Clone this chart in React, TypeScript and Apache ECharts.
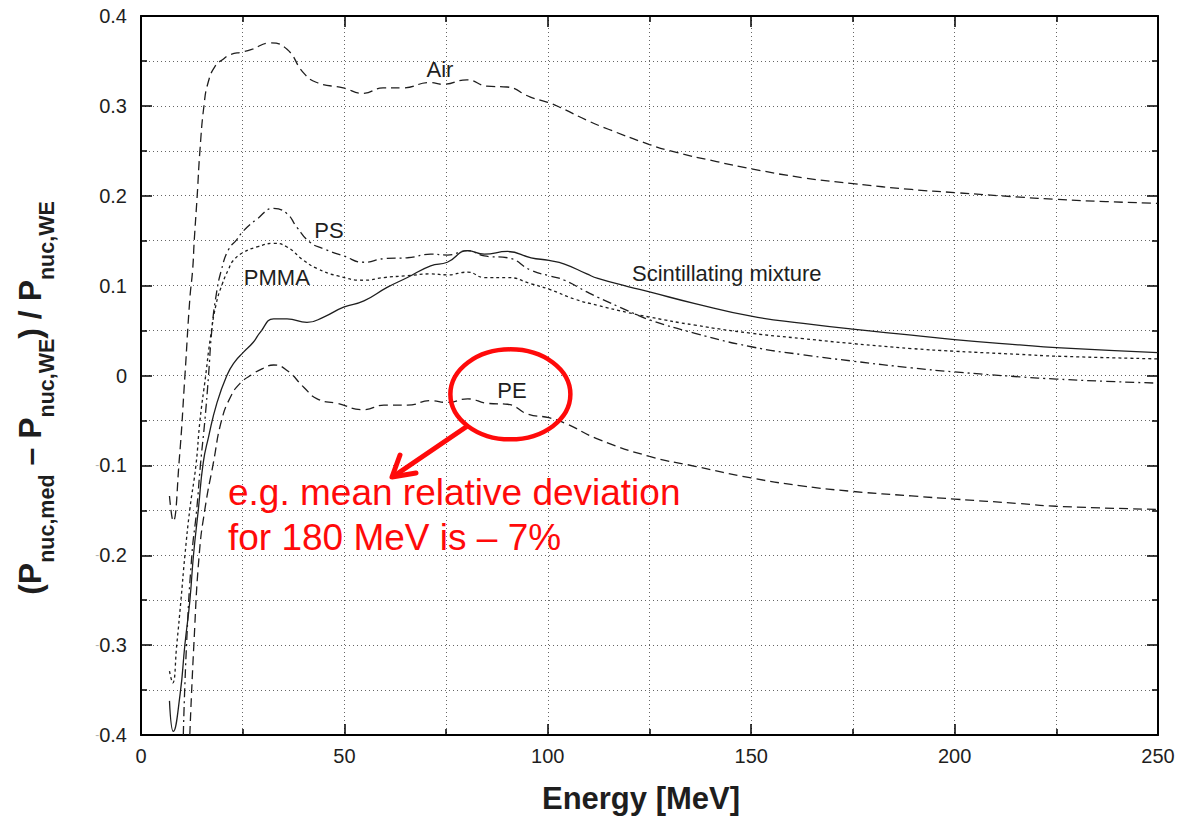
import React, { useEffect, useRef } from 'react';
import * as echarts from 'echarts';

// Relative deviation of nuclear interaction probability vs. water equivalent, per medium.
// Each curve: [energy in MeV, relative deviation]
const air: number[][] = [
  [7.0, -0.134], [7.9, -0.162], [9.4, -0.094], [10.8, 0.0], [12.0, 0.085], [12.7, 0.118],
  [13.1, 0.151], [13.8, 0.199], [14.5, 0.251], [15.5, 0.301], [16.5, 0.326], [18.2, 0.344],
  [20.2, 0.352], [21.9, 0.357], [25.0, 0.360], [27.3, 0.363], [31.7, 0.370], [35.9, 0.363],
  [39.9, 0.337], [43.2, 0.326], [49.7, 0.320], [54.6, 0.314], [59.5, 0.320], [64.4, 0.320],
  [71.0, 0.326], [74.2, 0.324], [80.1, 0.329], [85.0, 0.322], [90.0, 0.321], [95.6, 0.310],
  [100, 0.304], [103.2, 0.298], [109.6, 0.284], [114.9, 0.274], [125, 0.257], [130.9, 0.249],
  [141.5, 0.238], [150, 0.230], [162.8, 0.220], [175, 0.2135], [189.4, 0.207], [200, 0.2035],
  [216, 0.1985], [225, 0.196], [237.2, 0.1935], [250, 0.1915],
];

const ps: number[][] = [
  [10.4, -0.4], [11.2, -0.299], [12.5, -0.2], [13.7, -0.149], [14.6, -0.1], [15.7, -0.05],
  [16.6, 0.0], [17.4, 0.05], [18.5, 0.09], [19.8, 0.118], [21.5, 0.14], [23.5, 0.151],
  [25.2, 0.161], [28.5, 0.174], [32.6, 0.186], [35.9, 0.180], [38.3, 0.165], [41.6, 0.148],
  [44.9, 0.141], [49.8, 0.133], [54.8, 0.126], [59.7, 0.130], [65.5, 0.131], [71.2, 0.135],
  [75.3, 0.134], [80.3, 0.139], [84.4, 0.133], [90.1, 0.131], [95.9, 0.117], [100.3, 0.111],
  [104.1, 0.106], [109.6, 0.093], [112.3, 0.087], [119.7, 0.072], [125, 0.062], [136.2, 0.047],
  [150, 0.032], [162.8, 0.023], [175, 0.016], [189.4, 0.0085], [200, 0.004], [216, -0.0015],
  [225, -0.004], [237.2, -0.0065], [250, -0.0085],
];

const pmma: number[][] = [
  [7.0, -0.329], [7.8, -0.342], [8.8, -0.299], [9.8, -0.251], [10.8, -0.2], [12.0, -0.149],
  [13.5, -0.1], [14.5, -0.05], [15.9, 0.0], [17.0, 0.04], [18.5, 0.08], [20.0, 0.102],
  [21.5, 0.118], [22.7, 0.128], [25.2, 0.137], [28.5, 0.143], [32.6, 0.147], [35.9, 0.143],
  [40.0, 0.128], [43.3, 0.119], [48.2, 0.111], [54.8, 0.106], [59.7, 0.109], [65.5, 0.111],
  [71.2, 0.113], [75.3, 0.112], [80.3, 0.115], [84.4, 0.109], [90.1, 0.109], [95.9, 0.102],
  [100.3, 0.096], [106.6, 0.085], [112.3, 0.078], [119.7, 0.070], [125, 0.065], [136.2, 0.056],
  [150, 0.047], [162.8, 0.041], [175, 0.0355], [189.4, 0.030], [200, 0.027], [216, 0.0235],
  [225, 0.0215], [250, 0.0185],
];

const scint: number[][] = [
  [7.0, -0.362], [7.95, -0.396], [9.6, -0.355], [10.8, -0.299], [12.0, -0.251], [12.9, -0.2],
  [14.1, -0.149], [15.3, -0.097], [16.6, -0.0685], [18.6, -0.0315], [21.1, 0.0], [23.0, 0.015],
  [25.2, 0.026], [27.6, 0.037], [29.3, 0.048], [32.6, 0.063], [35.9, 0.063], [40.8, 0.059],
  [44.9, 0.065], [49.8, 0.076], [54.8, 0.083], [60.5, 0.098], [65.5, 0.109], [71.2, 0.122],
  [75.3, 0.126], [80.3, 0.139], [84.4, 0.135], [90.1, 0.138], [95.9, 0.131], [100.3, 0.128],
  [104.1, 0.124], [109.6, 0.113], [112.3, 0.108], [119.7, 0.099], [125, 0.093], [136.2, 0.080],
  [150, 0.066], [162.8, 0.058], [175, 0.0515], [189.4, 0.045], [200, 0.040], [216, 0.034],
  [225, 0.031], [250, 0.0255],
];

const pe: number[][] = [
  [12.0, -0.4], [13.0, -0.299], [14.3, -0.2], [15.7, -0.149], [17.8, -0.097], [19.8, -0.05],
  [22.0, -0.024], [24.3, -0.009], [27.6, 0.002], [30.0, 0.008], [32.6, 0.0117], [35.9, 0.0056],
  [40.0, -0.013], [43.3, -0.026], [48.2, -0.031], [54.8, -0.038], [59.7, -0.033], [65.5, -0.033],
  [71.2, -0.028], [75.3, -0.030], [80.3, -0.026], [85.2, -0.031], [90.1, -0.032], [95.1, -0.043],
  [100.3, -0.047], [104.2, -0.053], [112.5, -0.071], [125, -0.090], [136.2, -0.101], [150, -0.114],
  [162.8, -0.123], [175, -0.129], [189.4, -0.134], [200, -0.1375], [216, -0.1425], [225, -0.1455],
  [250, -0.149],
];

// Axis ranges and tick steps
const xRange = [0, 250];
const xStep = 50;
const yRange = [-0.4, 0.4];
const yStep = 0.1;

// Curve names, placed near their lines (data coordinates)
const curveNames = ['Air', 'PS', 'PMMA', 'Scintillating mixture', 'PE'];
const curveNameAnchors: number[][] = [
  [73.5, 0.340], [46.2, 0.161], [33.4, 0.109], [144.0, 0.1135], [91.2, -0.0167],
];

// Highlighted region around the PE label
const highlightCenter = [90.8, -0.021];

const FONT = '"Liberation Sans", Arial, Helvetica, sans-serif';
const INK = '#1e1e1e';
const RED = '#ff0a0a';
const GRID = '#666666';

export default function App() {
  const ref = useRef<HTMLDivElement>(null);

  useEffect(() => {
    if (!ref.current) return;
    const chart = echarts.init(ref.current, undefined, { renderer: 'svg' });

    const gridDots = { color: GRID, width: 1, type: [1, 3] as number[] };
    const baseAxis = (pos: string, isX: boolean, showLabels: boolean) => ({
      type: 'value',
      position: pos,
      min: isX ? xRange[0] : yRange[0],
      max: isX ? xRange[1] : yRange[1],
      interval: isX ? xStep : yStep,
      axisLine: { show: true, onZero: false, lineStyle: { color: '#000', width: 2 } },
      axisTick: { show: true, inside: true, length: 11, lineStyle: { color: '#000', width: 1.5 } },
      minorTick: { show: true, splitNumber: 2, length: 6, lineStyle: { color: '#000', width: 1.5 } },
      splitLine: { show: showLabels, lineStyle: gridDots },
      minorSplitLine: { show: showLabels, lineStyle: gridDots },
      axisLabel: showLabels
        ? isX
          ? { show: true, margin: 11, fontSize: 20, color: INK, fontFamily: FONT }
          : {
              show: true,
              margin: 14,
              fontSize: 20,
              color: INK,
              fontFamily: FONT,
              formatter: (v: number) => {
                const r = Math.round(v * 10) / 10;
                if (r === 0) return '0';
                if (r < 0) return '{m|-}' + Math.abs(r).toFixed(1);
                return r.toFixed(1);
              },
              rich: { m: { fontSize: 12, color: '#b0b0b0', fontFamily: FONT } },
            }
        : { show: false },
    });

    const curve = (name: string, data: number[][], type: any, z: number) => ({
      name,
      type: 'line',
      data,
      xAxisIndex: 0,
      yAxisIndex: 0,
      symbol: 'none',
      showSymbol: false,
      smooth: 0.5,
      clip: true,
      silent: true,
      z,
      lineStyle: { color: INK, width: 1.3, type },
    });

    chart.setOption({
      animation: false,
      backgroundColor: '#fff',
      grid: { left: 141, right: 22, top: 16, bottom: 83, containLabel: false },
      xAxis: [baseAxis('bottom', true, true), baseAxis('top', true, false)],
      yAxis: [baseAxis('left', false, true), baseAxis('right', false, false)],
      series: [
        curve('Air', air, [9, 5], 3),
        curve('PS', ps, [9, 4, 2, 4], 3),
        curve('PMMA', pmma, [3, 3], 3),
        curve('Scintillating mixture', scint, 'solid', 4),
        curve('PE', pe, [9, 5], 3),
      ],
    });

    const toPx = (p: number[]) => chart.convertToPixel({ gridIndex: 0 }, p) as number[];

    const nameTexts = curveNames.map((t, i) => {
      const [px, py] = toPx(curveNameAnchors[i]);
      return {
        type: 'text',
        x: px,
        y: py,
        z: 10,
        silent: true,
        style: {
          text: t,
          fontSize: 22,
          fontFamily: FONT,
          fill: INK,
          align: 'center',
          verticalAlign: 'middle',
        },
      };
    });

    const [ex, ey] = toPx(highlightCenter);

    chart.setOption({
      graphic: [
        ...nameTexts,
        // x-axis title
        {
          type: 'text',
          x: 641,
          y: 798,
          silent: true,
          style: {
            text: 'Energy [MeV]',
            fontSize: 31,
            fontWeight: 'bold',
            fontFamily: FONT,
            fill: INK,
            align: 'center',
            verticalAlign: 'middle',
          },
        },
        // y-axis title with subscripts
        {
          type: 'text',
          x: 30,
          y: 398,
          rotation: Math.PI / 2,
          silent: true,
          style: {
            text: '{m|(P}{s|nuc,med}{m| – P}{s|nuc,WE}{m|) / P}{s|nuc,WE}',
            align: 'center',
            verticalAlign: 'middle',
            fill: INK,
            rich: {
              m: {
                fontSize: 32,
                fontWeight: 'bold',
                fontFamily: FONT,
                lineHeight: 32,
                verticalAlign: 'top',
                fill: INK,
              },
              s: {
                fontSize: 21.5,
                fontWeight: 'bold',
                fontFamily: FONT,
                lineHeight: 21,
                verticalAlign: 'top',
                padding: [22, 0, 0, 0],
                fill: INK,
              },
            },
          },
        },
        // red highlight ring
        {
          type: 'ellipse',
          z: 20,
          silent: true,
          shape: { cx: ex, cy: ey, rx: 60, ry: 45 },
          style: { fill: 'none', stroke: RED, lineWidth: 4.5 },
        },
        // arrow shaft
        {
          type: 'line',
          z: 20,
          silent: true,
          shape: { x1: 466, y1: 427, x2: 394, y2: 476 },
          style: { stroke: RED, lineWidth: 5, lineCap: 'round' },
        },
        // arrow head
        {
          type: 'polyline',
          z: 20,
          silent: true,
          shape: { points: [[400, 455], [392, 477], [416, 473]] },
          style: { fill: 'none', stroke: RED, lineWidth: 5, lineCap: 'round', lineJoin: 'round' },
        },
        // annotation text
        {
          type: 'text',
          x: 228,
          y: 515,
          z: 20,
          silent: true,
          style: {
            text: 'e.g. mean relative deviation\nfor 180 MeV is – 7%',
            fontSize: 37,
            lineHeight: 45,
            fontFamily: FONT,
            fill: RED,
            align: 'left',
            verticalAlign: 'middle',
          },
        },
      ],
    });

    return () => chart.dispose();
  }, []);

  return (
    <div
      ref={ref}
      style={{ position: 'fixed', left: 0, top: 0, width: 1180, height: 818, background: '#fff' }}
    />
  );
}
